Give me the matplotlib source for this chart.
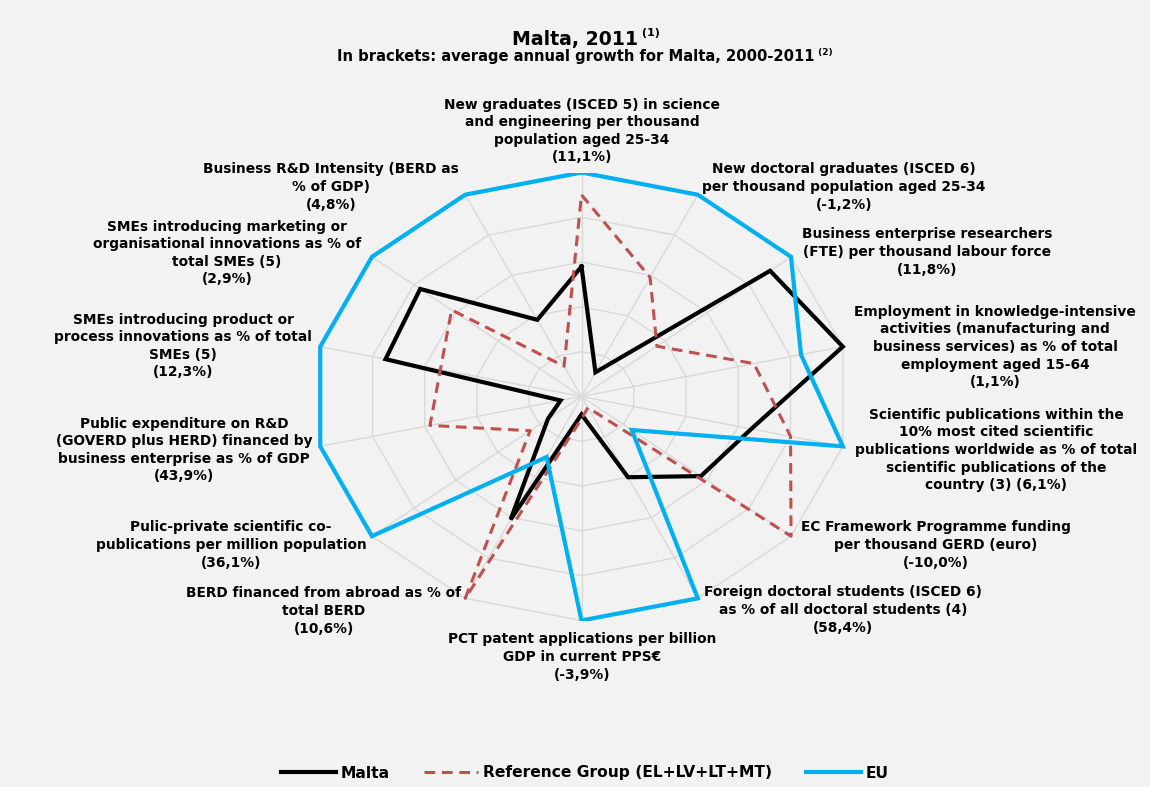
import numpy as np
import matplotlib
matplotlib.use("Agg")
import matplotlib.pyplot as plt

# Radar values, scaled so the outer ring is 1.0
indicators = [
    "New graduates (ISCED 5) in science\nand engineering per thousand\npopulation aged 25-34\n(11,1%)",
    "New doctoral graduates (ISCED 6)\nper thousand population aged 25-34\n(-1,2%)",
    "Business enterprise researchers\n(FTE) per thousand labour force\n(11,8%)",
    "Employment in knowledge-intensive\nactivities (manufacturing and\nbusiness services) as % of total\nemployment aged 15-64\n(1,1%)",
    "Scientific publications within the\n10% most cited scientific\npublications worldwide as % of total\nscientific publications of the\ncountry (3) (6,1%)",
    "EC Framework Programme funding\nper thousand GERD (euro)\n(-10,0%)",
    "Foreign doctoral students (ISCED 6)\nas % of all doctoral students (4)\n(58,4%)",
    "PCT patent applications per billion\nGDP in current PPS€\n(-3,9%)",
    "BERD financed from abroad as % of\ntotal BERD\n(10,6%)",
    "Pulic-private scientific co-\npublications per million population\n(36,1%)",
    "Public expenditure on R&D\n(GOVERD plus HERD) financed by\nbusiness enterprise as % of GDP\n(43,9%)",
    "SMEs introducing product or\nprocess innovations as % of total\nSMEs (5)\n(12,3%)",
    "SMEs introducing marketing or\norganisational innovations as % of\ntotal SMEs (5)\n(2,9%)",
    "Business R&D Intensity (BERD as\n% of GDP)\n(4,8%)",
]
malta = [0.58, 0.12, 0.90, 1.00, 0.65, 0.57, 0.40, 0.08, 0.61, 0.16, 0.08, 0.75, 0.77, 0.38]
ref_group = [0.90, 0.59, 0.36, 0.66, 0.80, 1.00, 0.055, 0.10, 1.00, 0.245, 0.58, 0.54, 0.62, 0.15]
eu = [1.00, 1.00, 1.00, 0.84, 1.00, 0.24, 1.00, 1.00, 0.30, 1.00, 1.00, 1.00, 1.00, 1.00]

# label anchor points in pixels (x from left, y from top)
label_pos = [
    (582, 131), (844, 187), (927, 252), (995, 347), (996, 450),
    (936, 545), (843, 610), (582, 657), (324, 611), (231, 545),
    (184, 450), (183, 346), (227, 253), (331, 187),
]

W, H = 1150, 787
BG = "#f2f2f2"
GRID = "#d9d9d9"
FONT = "DejaVu Sans"

fig = plt.figure(figsize=(W / 100, H / 100), dpi=100, facecolor=BG)

# chart centre and radii in pixels (plot area is wider than tall)
cx, cy, rx, ry = 581.5, 396.5, 268, 224
ax = fig.add_axes([(cx - rx) / W, (H - cy - ry) / H, 2 * rx / W, 2 * ry / H])
ax.set_xlim(-1, 1)
ax.set_ylim(-1, 1)
ax.axis("off")

n = len(indicators)
theta = np.arange(n) * 2 * np.pi / n
sx, sy = np.sin(theta), np.cos(theta)

def closed(v):
    v = np.asarray(v, dtype=float)
    return np.append(v * sx, v[0] * sx[0]), np.append(v * sy, v[0] * sy[0])

# web grid
for ring in [0.2, 0.4, 0.6, 0.8, 1.0]:
    gx, gy = closed([ring] * n)
    ax.plot(gx, gy, color=GRID, lw=1.0, zorder=1)
for k in range(n):
    ax.plot([0, sx[k]], [0, sy[k]], color=GRID, lw=1.0, zorder=1)

mx, my = closed(malta)
ax.plot(mx, my, color="black", lw=3.0, solid_joinstyle="miter", zorder=3, label="Malta")
gx, gy = closed(ref_group)
ax.plot(gx, gy, color="#c0504d", lw=2.2, ls=(0, (3.5, 2.2)), zorder=4,
        label="Reference Group (EL+LV+LT+MT)")
ex, ey = closed(eu)
ax.plot(ex, ey, color="#00b0f0", lw=3.0, solid_joinstyle="miter", zorder=5, label="EU")

for text, (px, py) in zip(indicators, label_pos):
    fig.text(px / W, 1 - py / H, text, ha="center", va="center", fontsize=9.9,
             fontweight="bold", family=FONT, linespacing=1.32)

# titles with superscript notes
t1 = fig.text(575 / W, 1 - 39 / H, "Malta, 2011", ha="center", va="center",
              fontsize=13.6, fontweight="bold", family=FONT)
ax.annotate(" (1)", xy=(1, 0.8), xycoords=t1, va="center", ha="left",
            fontsize=8, fontweight="bold", family=FONT)
t2 = fig.text(576 / W, 1 - 57 / H, "In brackets: average annual growth for Malta, 2000-2011",
              ha="center", va="center", fontsize=10.6, fontweight="bold", family=FONT)
ax.annotate(" (2)", xy=(1, 0.8), xycoords=t2, va="center", ha="left",
            fontsize=6.5, fontweight="bold", family=FONT)

fig.legend(loc="center", bbox_to_anchor=(0.5 + 10 / W, 1 - 773 / H), ncol=3, frameon=False,
           prop={"family": FONT, "weight": "bold", "size": 11.2}, handlelength=3.5,
           columnspacing=2.2, handletextpad=0.3)

fig.savefig("out.png", dpi=100, facecolor=BG)
